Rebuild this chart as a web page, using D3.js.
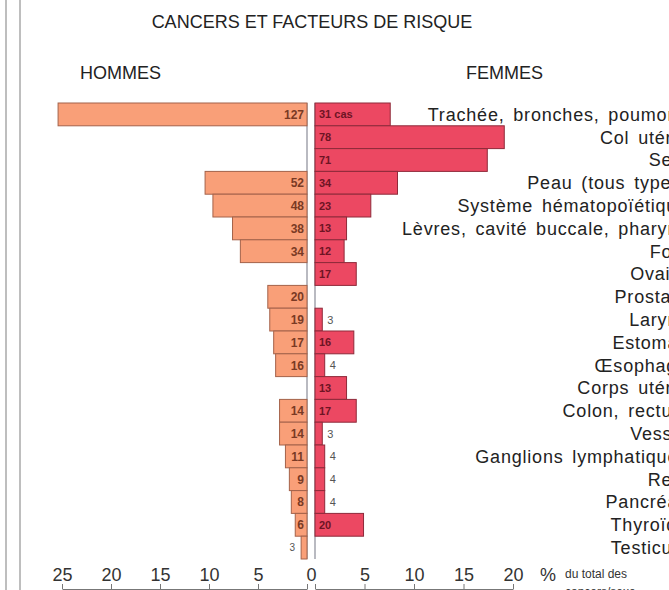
<!DOCTYPE html>
<html>
<head>
<meta charset="utf-8">
<script src="https://cdn.jsdelivr.net/npm/d3@7"></script>
<style>
body { margin: 0; background: #fff; }
svg { display: block; font-family: "Liberation Sans", Arial, sans-serif; }
</style>
</head>
<body>
<div id="cancerchart"></div>
<script>
// data
var categories = ["Trachée, bronches, poumons", "Col utérin", "Sein", "Peau (tous types)",
    "Système hématopoïétique", "Lèvres, cavité buccale, pharynx", "Foie", "Ovaire",
    "Prostate", "Larynx", "Estomac", "Œsophage", "Corps utérin", "Colon, rectum",
    "Vessie", "Ganglions lymphatiques", "Rein", "Pancréas", "Thyroïde", "Testicule"];
var menCases = [127, null, null, 52, 48, 38, 34, null, 20, 19, 17, 16, null, 14, 14, 11, 9, 8, 6, 3];
var womenCases = [31, 78, 71, 34, 23, 13, 12, 17, null, 3, 16, 4, 13, 17, 3, 4, 4, 4, 20, null];
// total number of cases per sex (bars are % of this)
var menTotal = 500;
var womenTotal = 408;
var menTicks = [25, 20, 15, 10, 5, 0];
var womenTicks = [5, 10, 15, 20];

var width = 669,
    height = 590;

var svg = d3.select("#cancerchart")
    .append("svg")
    .attr("width", width)
    .attr("height", height);

var xMen = d3.scaleLinear()
    .domain([0, 25])
    .range([307, 62]);
var xWomen = d3.scaleLinear()
    .domain([0, 20])
    .range([315, 513]);
var y = d3.scaleBand()
    .domain(categories)
    .range([103, 559])
    .padding(0);

var rows = categories.map(function(c, i) {
    return {cat: c, men: menCases[i], women: womenCases[i]};
});

// label goes inside the bar when there is room for it
var inside = function(w) { return w >= 11; };

// page border on the left
svg.append("line").attr("x1", 6).attr("x2", 6).attr("y1", 0).attr("y2", height)
    .attr("stroke", "#a8a8a8").attr("stroke-width", 1.5);
svg.append("line").attr("x1", 20).attr("x2", 20).attr("y1", 0).attr("y2", height)
    .attr("stroke", "#a8a8a8").attr("stroke-width", 1.5);

// titles
svg.append("text")
    .attr("x", 312).attr("y", 28)
    .attr("text-anchor", "middle")
    .attr("font-size", 18)
    .attr("fill", "#222")
    .text("CANCERS ET FACTEURS DE RISQUE");
svg.append("text")
    .attr("x", 80).attr("y", 79)
    .attr("font-size", 18)
    .attr("fill", "#222")
    .text("HOMMES");
svg.append("text")
    .attr("x", 466).attr("y", 79)
    .attr("font-size", 18)
    .attr("fill", "#222")
    .text("FEMMES");

// zero lines
svg.append("line")
    .attr("x1", xMen(0)).attr("x2", xMen(0))
    .attr("y1", y.range()[0]).attr("y2", y.range()[1])
    .attr("stroke", "#8a8c98").attr("stroke-width", 1.2);
svg.append("line")
    .attr("x1", xWomen(0)).attr("x2", xWomen(0))
    .attr("y1", y.range()[0]).attr("y2", y.range()[1])
    .attr("stroke", "#8a8c98").attr("stroke-width", 1.2);

// men bars
var mg = svg.append("g").attr("class", "menbars");
var mrow = mg.selectAll("g")
    .data(rows.filter(function(d) { return d.men != null; }))
    .enter()
    .append("g");
mrow.each(function(d) {
    d.x0 = xMen(d.men / menTotal * 100);
    d.w = xMen(0) - d.x0;
});
mrow.append("rect")
    .attr("x", function(d) { return d.x0; })
    .attr("y", function(d) { return y(d.cat); })
    .attr("width", function(d) { return d.w; })
    .attr("height", y.bandwidth())
    .attr("fill", "#f99f78")
    .attr("stroke", "#a4624a")
    .attr("stroke-width", 1);
mrow.append("text")
    .attr("x", function(d) { return inside(d.w) ? xMen(0) - 3 : d.x0 - 6; })
    .attr("y", function(d) { return y(d.cat) + y.bandwidth() / 2; })
    .attr("dy", "0.36em")
    .attr("text-anchor", "end")
    .attr("font-size", function(d) { return inside(d.w) ? 12 : 10; })
    .attr("font-weight", function(d) { return inside(d.w) ? "bold" : "normal"; })
    .attr("fill", function(d) { return inside(d.w) ? "#7a3a24" : "#555"; })
    .text(function(d) { return d.men; });

// women bars
var wg = svg.append("g").attr("class", "womenbars");
var wrow = wg.selectAll("g")
    .data(rows.filter(function(d) { return d.women != null; }))
    .enter()
    .append("g");
wrow.each(function(d) {
    d.x1 = xWomen(d.women / womenTotal * 100);
    d.w = d.x1 - xWomen(0);
});
wrow.append("rect")
    .attr("x", xWomen(0))
    .attr("y", function(d) { return y(d.cat); })
    .attr("width", function(d) { return d.w; })
    .attr("height", y.bandwidth())
    .attr("fill", "#ec4862")
    .attr("stroke", "#8e2a3a")
    .attr("stroke-width", 1);
wrow.append("text")
    .attr("x", function(d) { return inside(d.w) ? xWomen(0) + 4 : d.x1 + 5; })
    .attr("y", function(d) { return y(d.cat) + y.bandwidth() / 2; })
    .attr("dy", "0.36em")
    .attr("font-size", 11)
    .attr("font-weight", function(d) { return inside(d.w) ? "bold" : "normal"; })
    .attr("fill", function(d) { return inside(d.w) ? "#6e1424" : "#555"; })
    .text(function(d, i) { return i === 0 ? d.women + " cas" : d.women; });

// category labels, cut by the right edge like in the scan
svg.append("g").selectAll("text")
    .data(categories)
    .enter()
    .append("text")
    .attr("x", 688)
    .attr("y", function(d) { return y(d) + y.bandwidth() / 2; })
    .attr("dy", "0.36em")
    .attr("text-anchor", "end")
    .attr("font-size", 18)
    .attr("letter-spacing", 0.8)
    .attr("word-spacing", 3)
    .attr("fill", "#222")
    .text(function(d) { return d; });

// bottom axes
var axisY = 589;
var menAxis = d3.axisTop(xMen).tickValues(menTicks).tickSize(5).tickSizeOuter(0).tickFormat(d3.format("d"));
var womenAxis = d3.axisTop(xWomen).tickValues([0].concat(womenTicks)).tickSize(5).tickSizeOuter(0).tickFormat(function(d) { return d === 0 ? "" : d; });

var ma = svg.append("g")
    .attr("class", "axis menaxis")
    .attr("transform", "translate(0," + axisY + ")")
    .call(menAxis);
var wa = svg.append("g")
    .attr("class", "axis womenaxis")
    .attr("transform", "translate(0," + axisY + ")")
    .call(womenAxis);
svg.selectAll(".axis path").attr("stroke", "#777");
svg.selectAll(".axis line").attr("stroke", "#777");
svg.selectAll(".axis text")
    .attr("font-size", 18)
    .attr("font-family", "Liberation Sans, Arial, sans-serif")
    .attr("fill", "#333")
    .attr("y", -8);
// the single 0 sits between both zero lines
ma.selectAll(".tick text")
    .filter(function(d) { return d === 0; })
    .attr("x", (xWomen(0) - xMen(0)) / 2);

svg.append("text")
    .attr("x", 540).attr("y", 581)
    .attr("font-size", 18)
    .attr("fill", "#333")
    .text("%");
svg.append("text")
    .attr("x", 565).attr("y", 578)
    .attr("font-size", 12)
    .attr("fill", "#333")
    .text("du total des");
svg.append("text")
    .attr("x", 565).attr("y", 596)
    .attr("font-size", 12)
    .attr("fill", "#333")
    .text("cancers/sexe");
</script>
</body>
</html>
